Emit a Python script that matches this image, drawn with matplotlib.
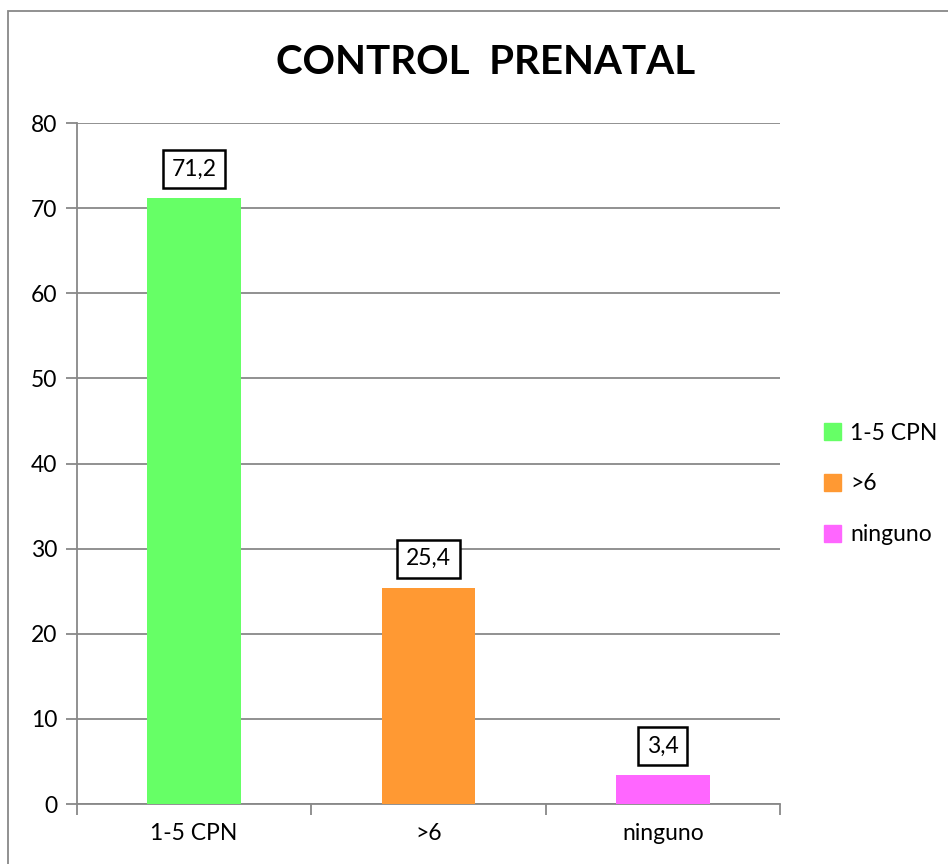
import matplotlib.pyplot as plt
from matplotlib.patches import Rectangle, Patch

categories = ['1-5 CPN', '>6', 'ninguno']
values = [71.2, 25.4, 3.4]
labels = ['71,2', '25,4', '3,4']
colors = ['#66ff66', '#ff9933', '#ff66ff']

plt.rcParams['font.family'] = ['Lato', 'DejaVu Sans']

fig = plt.figure(figsize=(9.48, 8.64), dpi=100)
ax = fig.add_axes([0.0812, 0.0694, 0.7416, 0.7882])

x = range(len(categories))
ax.bar(x, values, width=0.4, color=colors, zorder=3)

for i, (v, lab) in enumerate(zip(values, labels)):
    ax.annotate(lab, (i, v), xytext=(0, 29), textcoords='offset pixels',
                ha='center', va='center', fontsize=16.5, zorder=4,
                bbox=dict(boxstyle='square,pad=0.38', fc='white', ec='black', lw=1.8))

ax.set_xlim(-0.5, 2.5)
ax.set_ylim(0, 80)
ax.set_yticks(range(0, 81, 10))
ax.yaxis.grid(True, color='#888888', linewidth=1.3, zorder=0)
ax.set_axisbelow(True)

ax.set_xticks([-0.5, 0.5, 1.5, 2.5])
ax.set_xticklabels([])
ax.set_xticks(list(x), minor=True)
ax.set_xticklabels(categories, minor=True)
ax.tick_params(axis='x', which='minor', length=0, pad=14, labelsize=16.5)
ax.tick_params(axis='x', which='major', length=8, width=1.3, color='#888888', direction='out')
ax.tick_params(axis='y', length=8, width=1.3, color='#888888', labelsize=16.5, pad=6)

for s in ['top', 'right']:
    ax.spines[s].set_visible(False)
for s in ['left', 'bottom']:
    ax.spines[s].set_color('#888888')
    ax.spines[s].set_linewidth(1.3)

fig.text(0.512, 0.928, 'CONTROL  PRENATAL', ha='center', va='center',
         fontsize=29, fontweight='bold')

handles = [Patch(color=c) for c in colors]
fig.legend(handles, categories, loc='center left', bbox_to_anchor=(0.869, 0.44),
           frameon=False, fontsize=16.5, handlelength=0.75, handleheight=0.75,
           handletextpad=0.4, labelspacing=1.3, borderpad=0, borderaxespad=0)

fig.patches.append(Rectangle((8 / 948, -0.1), 1.2, 1.1 - 11 / 864,
                             transform=fig.transFigure, fill=False,
                             ec='#888888', lw=1.3))

fig.savefig('out.png')
